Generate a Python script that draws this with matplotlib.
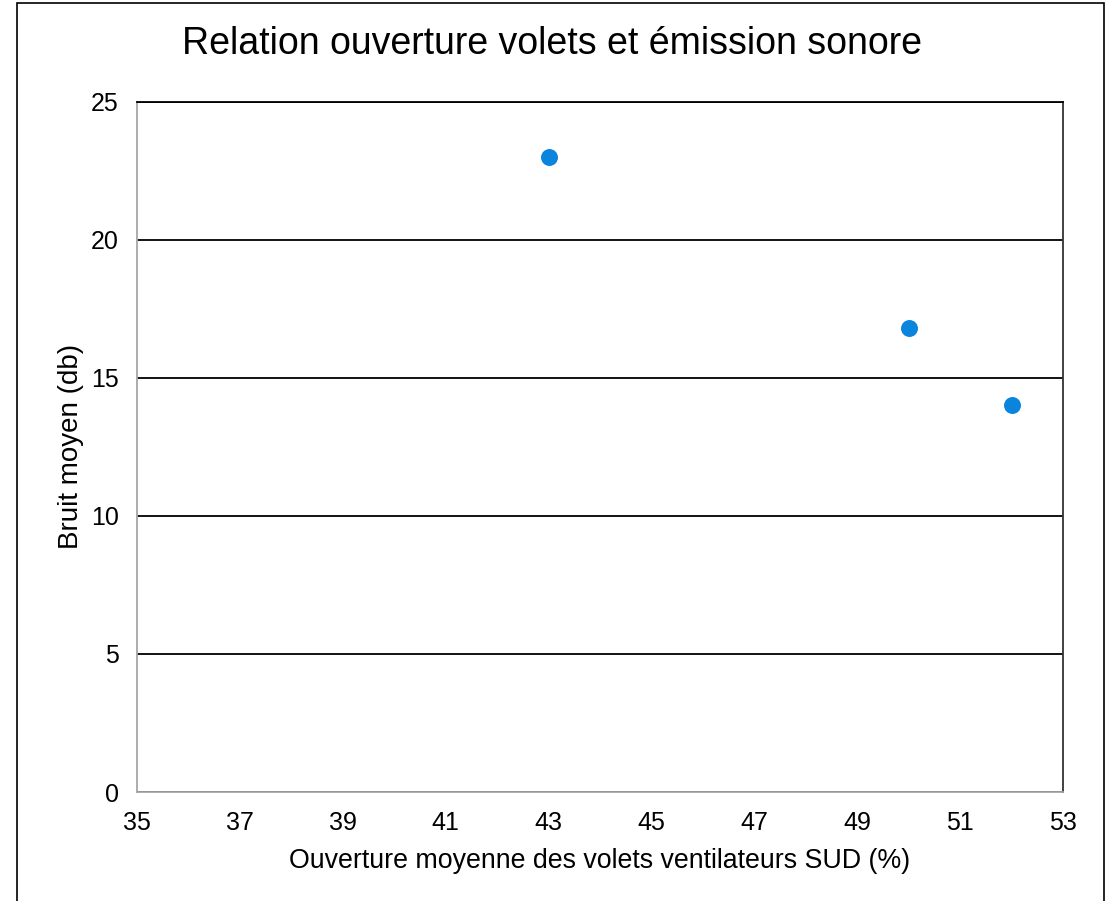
import matplotlib.pyplot as plt
from matplotlib.patches import Rectangle

# Data
ouverture = [43, 50, 52]          # % ouverture volets SUD
bruit = [23.0, 16.8, 14.0]        # bruit moyen (db)

x_ticks = [35, 37, 39, 41, 43, 45, 47, 49, 51, 53]
y_ticks = [0, 5, 10, 15, 20, 25]

plt.rcParams['font.family'] = ['Liberation Sans', 'DejaVu Sans']

fig = plt.figure(figsize=(11.14, 9.01), dpi=100)
ax = fig.add_axes([137 / 1114, 1 - 792 / 901, (1063 - 137) / 1114, (792 - 101.5) / 901])

# outer chart border (Excel chart area)
fig.patches.append(Rectangle((17 / 1114, -0.01), (1104 - 17) / 1114, 1.0 - 3 / 901 + 0.01,
                             transform=fig.transFigure, fill=False, edgecolor='black', linewidth=1.2))

ax.scatter(ouverture, bruit, s=125, color='#0A84DC', zorder=3)

ax.set_xlim(35, 53)
ax.set_ylim(0, 25)
ax.set_xticks(x_ticks)
ax.set_yticks(y_ticks)
ax.tick_params(length=0, labelsize=18)
ax.tick_params(axis='x', pad=14)
ax.tick_params(axis='y', pad=13)

ax.grid(axis='y', color='black', linewidth=1.3)
ax.set_axisbelow(True)
for side in ['left', 'bottom']:
    ax.spines[side].set_color('#A6A6A6')
    ax.spines[side].set_linewidth(1.3)
ax.spines['right'].set_color('#333333')
ax.spines['right'].set_linewidth(1.3)
ax.spines['top'].set_color('black')
ax.spines['top'].set_linewidth(1.3)

ax.set_xlabel('Ouverture moyenne des volets ventilateurs SUD (%)', fontsize=19.3, labelpad=9)
ax.set_ylabel('Bruit moyen (db)', fontsize=20, labelpad=5)

fig.text(552 / 1114, 1 - 44 / 901, 'Relation ouverture volets et émission sonore',
         fontsize=27, ha='center', va='center')

fig.savefig('out.png', dpi=100)
